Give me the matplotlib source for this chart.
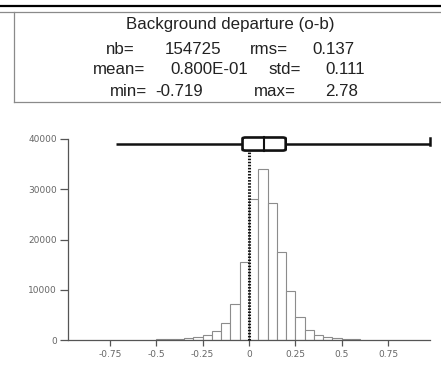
import matplotlib
matplotlib.use("Agg")
import matplotlib.pyplot as plt
from matplotlib.patches import FancyBboxPatch
from matplotlib.lines import Line2D
import numpy as np

# ---- data ----
bin_left = [-0.50, -0.45, -0.40, -0.35, -0.30, -0.25, -0.20, -0.15, -0.10, -0.05,
            0.00, 0.05, 0.10, 0.15, 0.20, 0.25, 0.30, 0.35, 0.40, 0.45, 0.50, 0.55]
counts = [100, 200, 250, 330, 650, 990, 1840, 3300, 7250, 15470,
          28000, 34000, 27300, 17500, 9700, 4600, 2000, 1000, 650, 330, 200, 150]
bin_width = 0.05
box_min, box_q1, box_median, box_q3, box_max = -0.719, -0.035, 0.08, 0.198, 2.78
x_ticks = [-0.75, -0.5, -0.25, 0, 0.25, 0.5, 0.75]
x_ticklabels = ["-0.75", "-0.5", "-0.25", "0", "0.25", "0.5", "0.75"]
y_ticks = [0, 10000, 20000, 30000, 40000]
y_ticklabels = ["0", "10000", "20000", "30000", "40000"]
title = "Background departure (o-b)"
stats_rows = [
    [("nb=", 106), ("154725", 165), ("rms=", 250), ("0.137", 312)],
    [("mean=", 93), ("0.800E-01", 170), ("std=", 268), ("0.111", 325)],
    [("min=", 110), ("-0.719", 155), ("max=", 254), ("2.78", 325)],
]

W, H = 441, 371
fig = plt.figure(figsize=(W / 100, H / 100), dpi=100)
fig.patch.set_facecolor("white")

def fx(px):
    return px / W

def fy(py):
    return 1 - py / H

# header frame
fig.add_artist(Line2D([0, 1], [fy(6), fy(6)], color="black", lw=1.6))
fig.add_artist(Line2D([0, 1], [fy(12), fy(12)], color="#8a8a8a", lw=0.9))
fig.add_artist(Line2D([fx(14), fx(14)], [fy(12), fy(102)], color="#8a8a8a", lw=0.9))
fig.add_artist(Line2D([fx(14), 1], [fy(102), fy(102)], color="#8a8a8a", lw=0.9))

tfont = dict(family="Liberation Sans", size=12.2, color="#222222")
fig.text(fx(230), fy(25), title, ha="center", va="center", **tfont)
row_y = [49, 70, 92]
for row, yy in zip(stats_rows, row_y):
    for txt, xx in row:
        fig.text(fx(xx), fy(yy), txt, ha="left", va="center", **tfont)

# plot axes
ax = fig.add_axes([fx(68), fy(340), fx(430) - fx(68), fy(139) - fy(340)])
ax.bar(bin_left, counts, width=bin_width, align="edge", facecolor="white",
       edgecolor="#8c8c8c", linewidth=0.8, zorder=2)
ax.set_xlim(-0.977, 0.977)
ax.set_ylim(0, 40000)

for s in ["top", "right"]:
    ax.spines[s].set_visible(False)
for s in ["left", "bottom"]:
    ax.spines[s].set_color("#555555")
    ax.spines[s].set_linewidth(0.9)

ax.set_xticks(x_ticks)
ax.set_xticklabels(x_ticklabels)
ax.set_yticks(y_ticks)
ax.set_yticklabels(y_ticklabels)
ax.tick_params(axis="both", colors="#555555", labelcolor="#666666", labelsize=6.5,
               width=0.9)
ax.tick_params(axis="y", length=6, pad=2)
ax.tick_params(axis="x", length=4, pad=3)
for lab in ax.get_xticklabels() + ax.get_yticklabels():
    lab.set_family("DejaVu Sans")

# box plot drawn at the top
yc, hh = 39000, 1300
xr = ax.get_xlim()[1]
ax.plot([box_min, box_q1], [yc, yc], color="#111111", lw=1.8, clip_on=False, zorder=5,
        solid_capstyle="butt")
ax.plot([box_q3, min(box_max, xr)], [yc, yc], color="#111111", lw=1.8, clip_on=False,
        zorder=5, solid_capstyle="butt")
ax.plot([xr, xr], [yc - 200, yc + 1200], color="#111111", lw=1.8, clip_on=False, zorder=5)
box = FancyBboxPatch((box_q1, yc - hh), box_q3 - box_q1, 2 * hh,
                     boxstyle="round,pad=0,rounding_size=0.018",
                     mutation_aspect=40000 / 1.954 * (201 / 362),
                     facecolor="white", edgecolor="#111111", lw=1.9, clip_on=False, zorder=6)
ax.add_patch(box)
ax.plot([box_median, box_median], [yc - hh, yc + hh], color="#111111", lw=1.5,
        clip_on=False, zorder=7)
ax.plot([0, 0], [0, yc - hh], color="#111111", lw=2.2, ls=(0, (0.5, 0.5)),
        clip_on=False, zorder=4)

fig.savefig("out.png", dpi=100)
